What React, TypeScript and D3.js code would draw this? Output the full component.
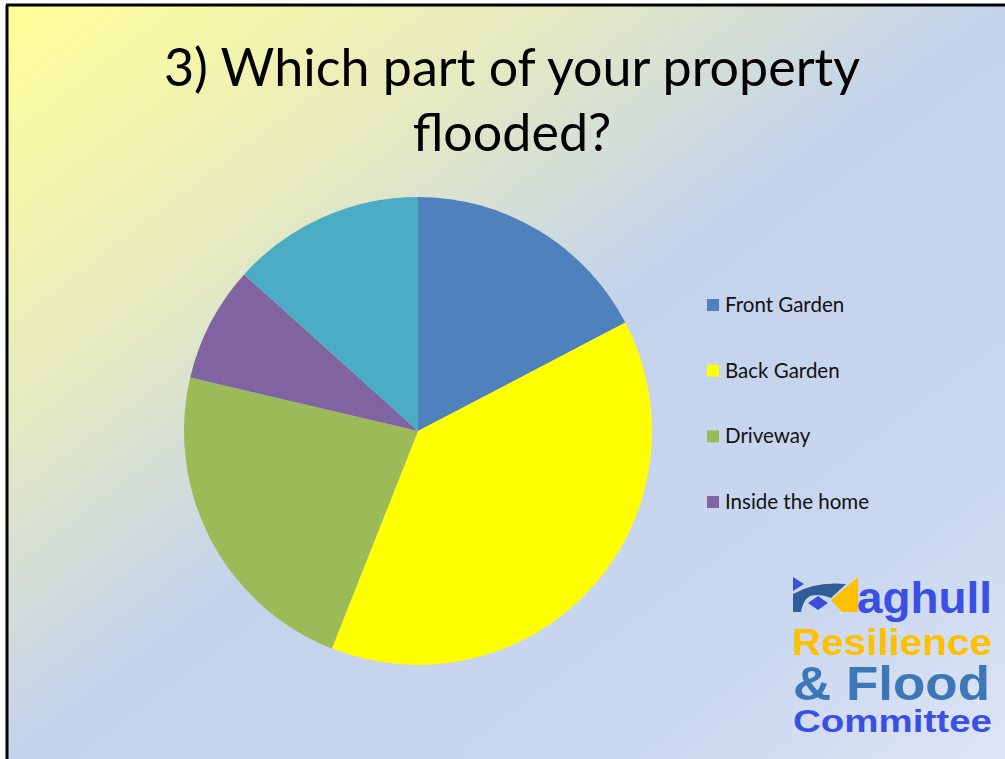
import React from "react";
import * as d3 from "d3";

const categories = ["Front Garden", "Back Garden", "Driveway", "Inside the home", "Other"];
const values = [13, 29, 17, 6, 10];
const colors = ["#4F81BD", "#FFFF00", "#9BBB59", "#8064A2", "#4BACC6"];
const legendCount = 4;
const titleLines = ["3) Which part of your property", "flooded?"];

const W = 1005;
const H = 759;

export default function App() {
  const cx = 418;
  const cy = 431;
  const r = 234;
  const pie = d3.pie<number>().sort(null).value((d) => d);
  const arcs = pie(values);
  const arcGen = d3.arc<d3.PieArcDatum<number>>().innerRadius(0).outerRadius(r);
  const legendY = d3.scalePoint<string>().domain(categories.slice(0, legendCount)).range([305, 502]);

  return (
    <svg width={W} height={H} style={{ position: "fixed", left: 0, top: 0 }}>
      <defs>
        <linearGradient id="bg" x1="0" y1="0" x2="1" y2="1" gradientUnits="objectBoundingBox">
          <stop offset="0" stopColor="#FFFF99" />
          <stop offset="0.27" stopColor="#E6EAC0" />
          <stop offset="0.5" stopColor="#C4D3EC" />
          <stop offset="0.8" stopColor="#C9D7EF" />
          <stop offset="1" stopColor="#DDE5F5" />
        </linearGradient>
      </defs>
      <rect x={0} y={0} width={W} height={H} fill="#fff" />
      <rect x={8} y={6} width={W - 8} height={H - 6} fill="url(#bg)" />
      <line x1={7} y1={5} x2={7} y2={H} stroke="#000" strokeWidth={3} />
      <line x1={6} y1={5} x2={W} y2={5} stroke="#000" strokeWidth={3} />

      {titleLines.map((t, i) => (
        <text
          key={i}
          x={512}
          y={86 + i * 65}
          textAnchor="middle"
          fontFamily="Lato, 'Open Sans', sans-serif"
          fontSize={52}
          fill="#000"
        >
          {t}
        </text>
      ))}

      <g transform={`translate(${cx},${cy})`}>
        {arcs.map((a, i) => (
          <path key={i} d={arcGen(a) || ""} fill={colors[i]} />
        ))}
      </g>

      {categories.slice(0, legendCount).map((c, i) => (
        <g key={c} transform={`translate(707,${legendY(c)})`}>
          <rect x={0} y={-6} width={12} height={12} fill={colors[i]} />
          <text x={18} y={7} fontFamily="Lato, 'Open Sans', sans-serif" fontSize={20.5} fill="#111">
            {c}
          </text>
        </g>
      ))}

      <g fontFamily="'Liberation Sans', Arial, sans-serif" fontWeight="bold">
        <path d="M793,577 L804,584 L793,591 Z" fill="#3B4FD8" />
        <path d="M793,594 Q815,581 846,584 L831,598 Q820,593 810,596 Q803,600 801,612 L793,612 Z" fill="#2E5D9A" />
        <path d="M808,603 L818,596 L828,603 L818,610 Z" fill="#3B4FD8" />
        <path d="M831,600 L857,578 L858,578 L858,612 L842,612 Z" fill="#FFC000" />
        <text x={857} y={613} fontSize={44} fill="#3B50E3" textLength={135} lengthAdjust="spacingAndGlyphs">aghull</text>
        <text x={792} y={655} fontSize={37} fill="#FFC000" textLength={200} lengthAdjust="spacingAndGlyphs">Resilience</text>
        <text x={793} y={700} fontSize={48} fill="#3C78B8" textLength={197} lengthAdjust="spacingAndGlyphs">&amp; Flood</text>
        <text x={793} y={732} fontSize={32} fill="#3B50E3" textLength={199} lengthAdjust="spacingAndGlyphs">Committee</text>
      </g>
    </svg>
  );
}
